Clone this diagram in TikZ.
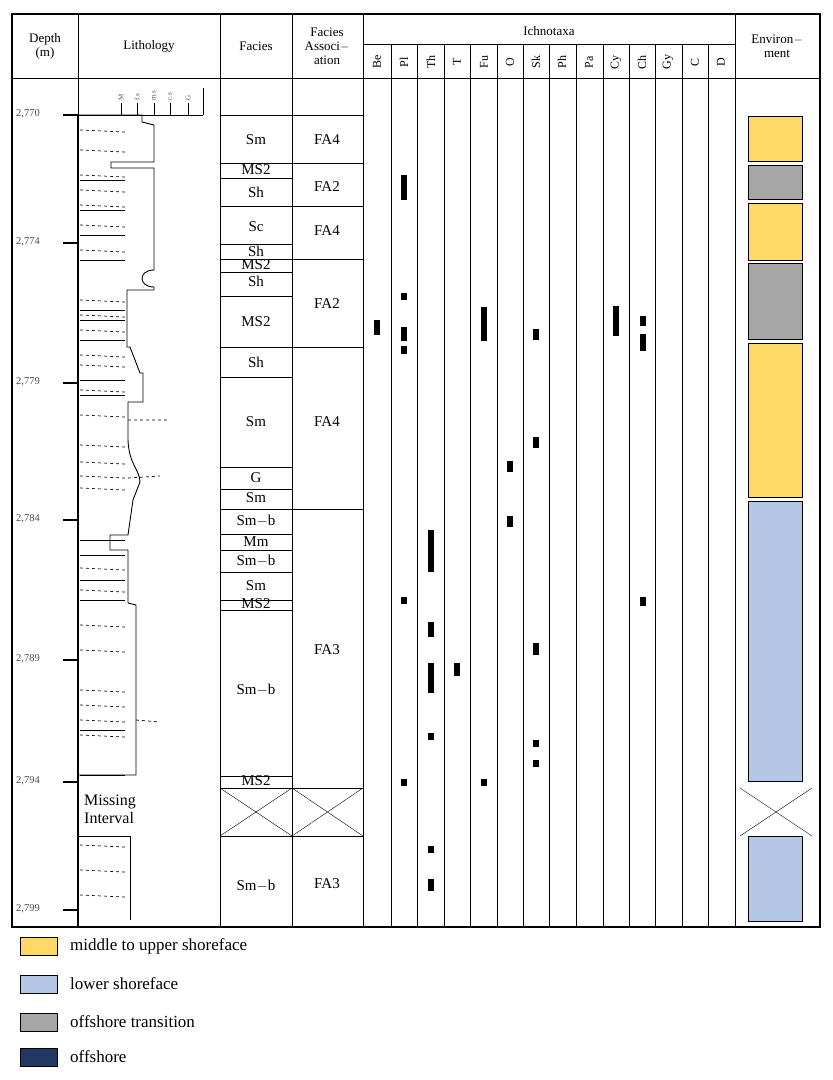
\documentclass[tikz,border=0pt]{standalone}
\usepackage{fontspec}
\setmainfont{Liberation Serif}
\begin{document}
\begin{tikzpicture}[x=1pt,y=-1pt,
  tx/.style={font=\fontsize{15}{16}\selectfont, inner sep=0pt},
  hd/.style={font=\fontsize{13}{14}\selectfont, inner sep=0pt, align=center},
  sm/.style={font=\fontsize{10.5}{11}\selectfont, inner sep=0pt, text=black!70},
  mk/.style={fill=black},
  env/.style={draw=black, line width=0.8pt},
  lg/.style={font=\fontsize{17}{18}\selectfont, inner sep=0pt, anchor=west}]
\useasboundingbox (0,0) rectangle (833,1080);
\definecolor{yel}{HTML}{FFD966}\definecolor{blu}{HTML}{B4C7E7}
\definecolor{gry}{HTML}{A6A6A6}\definecolor{nav}{HTML}{1F3864}
% frame
\draw[line width=1.2pt] (12,14) rectangle (820,927);
\draw[line width=0.8pt] (12,78) -- (820,78);
\draw[line width=0.8pt] (363,44) -- (735,44);
\foreach \x in {78,220,292,363,735} \draw[line width=0.8pt] (\x,14) -- (\x,927);
\foreach \x in {391,417,444,470,497,523,549,576,603,629,655,682,708} \draw[line width=0.8pt] (\x,44) -- (\x,927);
% headers
\node[hd] (hdep) at (45,46) {Depth\\(m)};
\node[hd] (hlit) at (149,46) {Lithology};
\node[hd] (hfac) at (256,46) {Facies};
\node[hd] (hfa) at (327,46) {Facies\\Associ$-$\\ation};
\node[hd] (hich) at (549,31) {Ichnotaxa};
\node[hd] (henv) at (777,46) {Environ$-$\\ment};
\foreach \n/\x in {Be/377,Pl/404,Th/431,T/457,Fu/484,O/510,Sk/536,Ph/562,Pa/589,Cy/616,Ch/642,Gy/668,C/695,D/721}
  \node[hd, rotate=90, font=\fontsize{12}{13}\selectfont] (h\n) at (\x,62) {\n};
% depth scale
\foreach \d/\y in {2770/115,2774/243,2779/383,2784/520,2789/660,2794/782,2799/910}{
  \draw[line width=1.2pt] (63,\y) -- (78,\y);
}
\foreach \t/\y in {{2,770}/115,{2,774}/243,{2,779}/383,{2,784}/520,{2,789}/660,{2,794}/782,{2,799}/910}
  \node[sm, anchor=west] at (16,\y-1) {\t};
% grain scale
\draw[line width=0.8pt] (63,115) -- (203,115) (203,88) -- (203,115);
\foreach \g/\x in {M/121,f.s/137,m.s/154,c.s/170,G/188}{
  \draw[line width=0.8pt] (\x,103) -- (\x,115);
  \node[sm, rotate=90, anchor=west, font=\fontsize{7}{8}\selectfont] at (\x,101) {\g};
}
% lithology profile
\draw[line width=0.9pt] (78,115) -- (142,115) -- (142,122) -- (154,125) -- (154,162) -- (111,162) -- (111,168) -- (154,168)
  -- (154,270) .. controls (138,270) and (138,287) .. (154,287) -- (154,290) -- (127,290) -- (127,347) -- (130,347)
  -- (140,373) -- (143,373) -- (143,402) -- (128,402) -- (128,440) .. controls (129,465) and (140,470) .. (140,482)
  -- (133,500) -- (128,535) -- (110,535) -- (110,550) -- (128,550) -- (128,603) -- (136,605) -- (136,775) -- (78,775);
\draw[line width=0.9pt] (78,836) -- (130,836) -- (130,920);
\draw[line width=1.2pt] (78,115) -- (78,927);
\foreach \y in {130,150,175,190,205,225,250,300,315,330,355,365,390,415,445,462,476,488,568,590,625,650,690,705,720,735,845,870,895}
  \draw[dashed, line width=0.7pt] (80,\y) -- (125,\y+2);
\foreach \y in {180,210,235,260,310,320,340,380,395,540,555,580,600,730,775}
  \draw[line width=0.8pt] (80,\y) -- (125,\y);
\draw[dashed, line width=0.7pt] (128,420) -- (170,420) (128,478) -- (160,476) (136,720) -- (160,722);
\node[tx, align=left, anchor=north west, font=\fontsize{16}{18}\selectfont] (miss) at (84,795) {Missing\\Interval};
% facies rows
\foreach \y in {115,163,178,206,244,259,272,296,347,377,467,489,509,534,550,572,600,610,776,788,836}
  \draw[line width=0.8pt] (220,\y) -- (292,\y);
\foreach \y in {115,163,206,259,347,509,788,836}
  \draw[line width=0.8pt] (292,\y) -- (363,\y);
\draw (220,788) -- (292,836) (220,836) -- (292,788);
\draw (292,788) -- (363,836) (292,836) -- (363,788);
\foreach \t/\y [count=\i] in {Sm/140,MS2/170,Sh/192,Sc/227,Sh/251,MS2/265,Sh/281,MS2/322,Sh/362,Sm/422,G/478,Sm/498,Sm$-$b/521,Mm/542,Sm$-$b/561,Sm/586,MS2/604,Sm$-$b/690,MS2/781,Sm$-$b/886}
  \node[tx] (f\i) at (256,\y) {\t};
\foreach \t/\y [count=\i] in {FA4/140,FA2/187,FA4/231,FA2/304,FA4/422,FA3/650,FA3/884}
  \node[tx] (a\i) at (327,\y) {\t};
% trace marks
\def\bar#1#2#3{\fill (#1-3,#2) rectangle (#1+3,#3);}
\bar{377}{320}{335}
\bar{404}{175}{200}\bar{404}{293}{300}\bar{404}{327}{341}\bar{404}{346}{354}\bar{404}{597}{604}\bar{404}{779}{786}
\bar{431}{530}{572}\bar{431}{622}{637}\bar{431}{663}{693}\bar{431}{733}{740}\bar{431}{846}{853}\bar{431}{879}{891}
\bar{457}{663}{676}
\bar{484}{307}{341}\bar{484}{779}{786}
\bar{510}{461}{472}\bar{510}{516}{527}
\bar{536}{329}{340}\bar{536}{437}{448}\bar{536}{643}{655}\bar{536}{740}{747}\bar{536}{760}{767}
\bar{616}{306}{336}
\bar{643}{316}{326}\bar{643}{334}{351}\bar{643}{597}{606}
% environment
\draw[env, fill=yel] (748,116) rectangle (802,161);
\draw[env, fill=gry] (748,165) rectangle (802,199);
\draw[env, fill=yel] (748,203) rectangle (802,260);
\draw[env, fill=gry] (748,263) rectangle (802,339);
\draw[env, fill=yel] (748,343) rectangle (802,497);
\draw[env, fill=blu] (748,501) rectangle (802,781);
\draw[env, fill=blu] (748,836) rectangle (802,921);
\draw (740,788) -- (812,836) (740,836) -- (812,788);
% legend
\draw[env, fill=yel] (20,937) rectangle (57,955);
\draw[env, fill=blu] (20,975) rectangle (57,993);
\draw[env, fill=gry] (20,1013) rectangle (57,1031);
\draw[env, fill=nav] (20,1048) rectangle (57,1066);
\node[lg] (l1) at (70,946) {middle to upper shoreface};
\node[lg] (l2) at (70,984) {lower shoreface};
\node[lg] (l3) at (70,1022) {offshore transition};
\node[lg] (l4) at (70,1057) {offshore};
\end{tikzpicture}
\end{document}
